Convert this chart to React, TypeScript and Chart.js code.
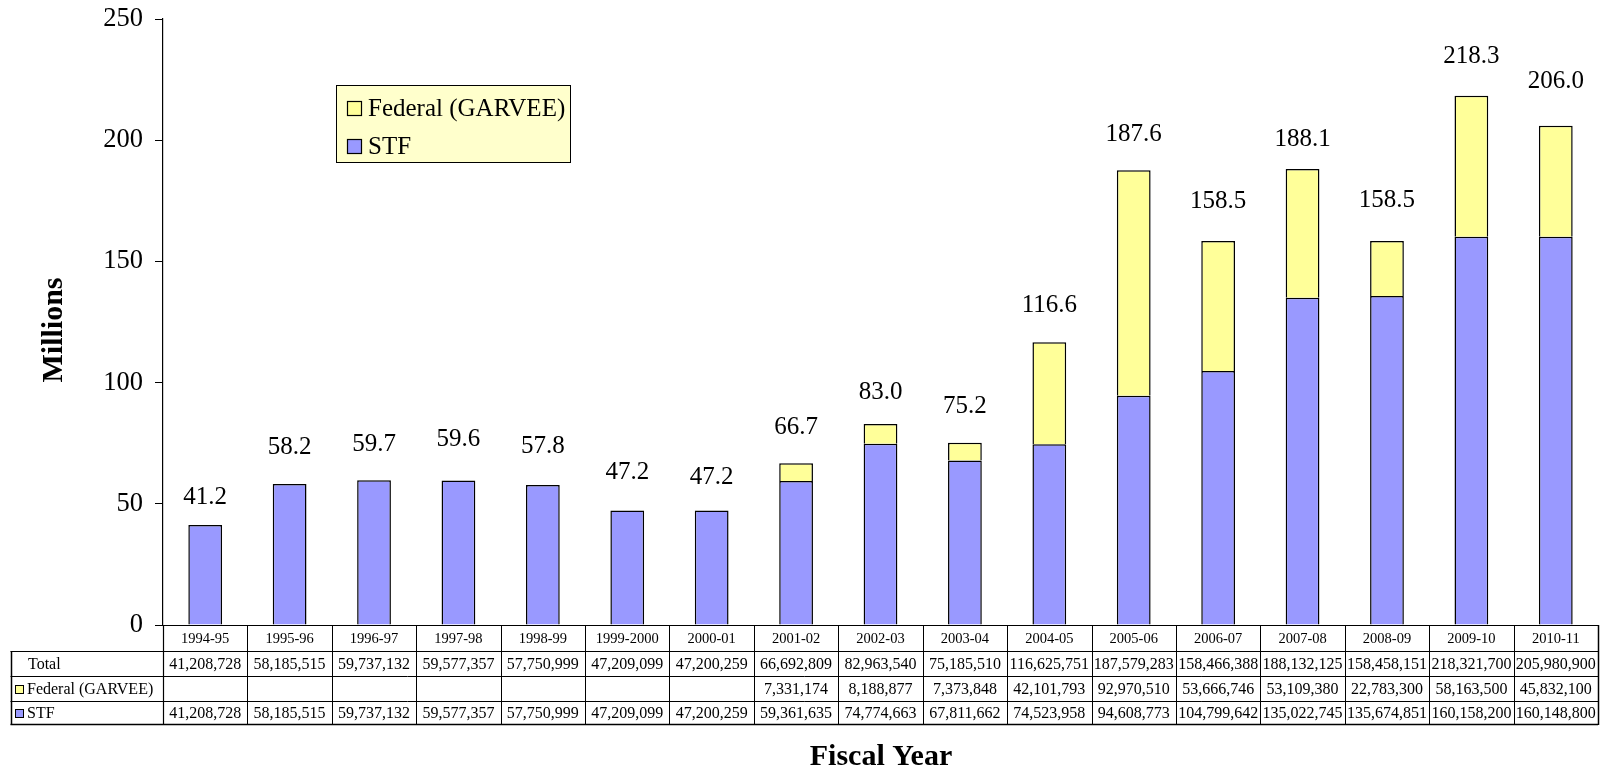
import React, { useEffect, useRef } from "react";
import { Chart, registerables } from "chart.js";

Chart.register(...registerables);

// ---------- DATA ----------
const categories = [
  "1994-95", "1995-96", "1996-97", "1997-98", "1998-99", "1999-2000", "2000-01",
  "2001-02", "2002-03", "2003-04", "2004-05", "2005-06", "2006-07", "2007-08",
  "2008-09", "2009-10", "2010-11",
];

const stfValues = [
  41208728, 58185515, 59737132, 59577357, 57750999, 47209099, 47200259,
  59361635, 74774663, 67811662, 74523958, 94608773, 104799642, 135022745,
  135674851, 160158200, 160148800,
];

const federalValues: (number | null)[] = [
  null, null, null, null, null, null, null,
  7331174, 8188877, 7373848, 42101793, 92970510, 53666746, 53109380,
  22783300, 58163500, 45832100,
];

const totalValues = [
  41208728, 58185515, 59737132, 59577357, 57750999, 47209099, 47200259,
  66692809, 82963540, 75185510, 116625751, 187579283, 158466388, 188132125,
  158458151, 218321700, 205980900,
];

const yMin = 0;
const yMax = 250;
const yStep = 50;

const seriesNames = ["STF", "Federal (GARVEE)"];
const rowNames = ["Total", "Federal (GARVEE)", "STF"];
const yTitle = "Millions";
const xTitle = "Fiscal Year";

// ---------- STYLE / LAYOUT ----------
const SERIF = '"Liberation Serif", "Times New Roman", Times, serif';
const STF_COLOR = "#9999FF";
const FED_COLOR = "#FFFF99";
const LEGEND_BG = "#FFFFCC";
// pixel lift of each total label above its bar top (as placed in the original)
const labelLift = [28, 37, 36, 41, 39, 38, 33, 36, 31, 36, 37, 36, 39, 30, 40, 39, 44];

const fmt = (v: number | null) =>
  v == null ? "" : v.toLocaleString("en-US");

const overlayPlugin = {
  id: "overlay",
  afterDatasetsDraw(chart: any) {
    const ctx = chart.ctx;
    const xs = chart.scales.x;
    const ys = chart.scales.y;
    ctx.save();
    ctx.fillStyle = "#000";
    ctx.font = `25px ${SERIF}`;
    ctx.textAlign = "center";
    ctx.textBaseline = "middle";
    totalValues.forEach((t, i) => {
      const m = t / 1e6;
      const px = xs.getPixelForValue(i);
      const py = ys.getPixelForValue(m) - labelLift[i];
      ctx.fillText(m.toFixed(1), px, py);
    });
    ctx.restore();
  },
  afterDraw(chart: any) {
    const ctx = chart.ctx;
    const xs = chart.scales.x;
    const area = chart.chartArea;
    const n = categories.length;
    const colW = (xs.right - xs.left) / n;
    const top = area.bottom;
    const rows = [top, top + 26, top + 51, top + 76, top + 99];
    const tableLeft = 10.5;
    const right = xs.right;
    const axisX = xs.left;

    ctx.save();
    ctx.strokeStyle = "#000";
    ctx.lineWidth = 1;

    const hline = (y: number, x0: number, x1: number, w = 1) => {
      ctx.lineWidth = w;
      ctx.beginPath();
      ctx.moveTo(x0, Math.round(y) + 0.5);
      ctx.lineTo(x1, Math.round(y) + 0.5);
      ctx.stroke();
    };
    const vline = (x: number, y0: number, y1: number, w = 1) => {
      ctx.lineWidth = w;
      ctx.beginPath();
      ctx.moveTo(Math.round(x) + 0.5, y0);
      ctx.lineTo(Math.round(x) + 0.5, y1);
      ctx.stroke();
    };

    hline(rows[0], axisX, right, 1.2);
    hline(rows[1], tableLeft, right, 1.2);
    hline(rows[2], tableLeft, right, 1);
    hline(rows[3], tableLeft, right, 1);
    hline(rows[4], tableLeft, right, 1.5);
    vline(tableLeft, rows[1], rows[4] + 1, 1.5);
    vline(axisX, rows[0], rows[4] + 1, 1.2);
    for (let i = 1; i <= n; i++) {
      vline(xs.left + colW * i, rows[0], rows[4] + 1, i === n ? 1.5 : 1);
    }

    // header row (categories)
    ctx.fillStyle = "#000";
    ctx.textAlign = "center";
    ctx.textBaseline = "middle";
    ctx.font = `14.5px ${SERIF}`;
    categories.forEach((c, i) => {
      ctx.fillText(c, xs.getPixelForValue(i), (rows[0] + rows[1]) / 2 + 1);
    });

    // value rows
    ctx.font = `16px ${SERIF}`;
    const rowData = [totalValues, federalValues, stfValues];
    rowData.forEach((arr, r) => {
      const cy = (rows[r + 1] + rows[r + 2]) / 2 + 1;
      arr.forEach((v: any, i: number) => {
        ctx.fillText(fmt(v), xs.getPixelForValue(i), cy);
      });
    });

    // row labels
    ctx.textAlign = "left";
    const swatch = [null, FED_COLOR, STF_COLOR];
    rowNames.forEach((name, r) => {
      const cy = (rows[r + 1] + rows[r + 2]) / 2 + 1;
      if (swatch[r]) {
        ctx.fillStyle = swatch[r] as string;
        ctx.fillRect(15, cy - 4.5, 8, 8);
        ctx.lineWidth = 1;
        ctx.strokeStyle = "#000";
        ctx.strokeRect(15.5, cy - 4, 8, 8);
        ctx.fillStyle = "#000";
        ctx.fillText(name, 27, cy);
      } else {
        ctx.fillStyle = "#000";
        ctx.fillText(name, 28, cy);
      }
    });

    // legend box
    const lx = 336.5, ly = 85.5, lw = 234, lh = 77;
    ctx.fillStyle = LEGEND_BG;
    ctx.fillRect(lx, ly, lw, lh);
    ctx.strokeStyle = "#000";
    ctx.lineWidth = 1;
    ctx.strokeRect(lx, ly, lw, lh);
    const legendItems = [
      { name: seriesNames[1], color: FED_COLOR, cy: 108 },
      { name: seriesNames[0], color: STF_COLOR, cy: 146 },
    ];
    ctx.font = `25px ${SERIF}`;
    ctx.textBaseline = "middle";
    legendItems.forEach((it) => {
      ctx.fillStyle = it.color;
      ctx.fillRect(347, it.cy - 7, 14, 14);
      ctx.strokeStyle = "#000";
      ctx.lineWidth = 1.2;
      ctx.strokeRect(347.5, it.cy - 6.5, 14, 14);
      ctx.fillStyle = "#000";
      ctx.fillText(it.name, 368, it.cy + 1);
    });

    // axis titles
    ctx.font = `bold 30px ${SERIF}`;
    ctx.textAlign = "center";
    ctx.textBaseline = "alphabetic";
    ctx.fillText(xTitle, 881, 765);
    ctx.save();
    ctx.translate(62, 330);
    ctx.rotate(-Math.PI / 2);
    ctx.fillText(yTitle, 0, 0);
    ctx.restore();

    ctx.restore();
  },
};

export default function App() {
  const canvasRef = useRef<HTMLCanvasElement | null>(null);

  useEffect(() => {
    if (!canvasRef.current) return;
    const chart = new Chart(canvasRef.current, {
      type: "bar",
      data: {
        labels: categories,
        datasets: [
          {
            label: seriesNames[0],
            data: stfValues.map((v) => v / 1e6),
            backgroundColor: STF_COLOR,
            borderColor: "#000",
            borderWidth: 1.5,
            barPercentage: 0.4,
            categoryPercentage: 1,
          },
          {
            label: seriesNames[1],
            data: federalValues.map((v) => (v == null ? null : v / 1e6)),
            backgroundColor: FED_COLOR,
            borderColor: "#000",
            borderWidth: 1.5,
            barPercentage: 0.4,
            categoryPercentage: 1,
          },
        ],
      },
      options: {
        responsive: false,
        animation: false,
        devicePixelRatio: 1,
        layout: { padding: { top: 19, bottom: 147, left: 0, right: 10 } },
        plugins: {
          legend: { display: false },
          tooltip: { enabled: false },
          title: { display: false },
        },
        scales: {
          x: { display: false, stacked: true },
          y: {
            stacked: true,
            min: yMin,
            max: yMax,
            ticks: {
              stepSize: yStep,
              color: "#000",
              padding: 12,
              font: { family: SERIF, size: 26.5 },
            },
            grid: {
              display: true,
              drawOnChartArea: false,
              drawTicks: true,
              tickLength: 8,
              color: "#000",
            },
            border: { display: true, color: "#000", width: 1.2 },
            afterFit: (s: any) => {
              s.width = 163;
              s.paddingTop = 0;
              s.paddingBottom = 0;
            },
          },
        },
      },
      plugins: [overlayPlugin],
    } as any);
    return () => chart.destroy();
  }, []);

  return (
    <div style={{ position: "fixed", left: 0, top: 0, width: 1608, height: 772, background: "#fff" }}>
      <canvas ref={canvasRef} width={1608} height={772} style={{ display: "block" }} />
    </div>
  );
}
